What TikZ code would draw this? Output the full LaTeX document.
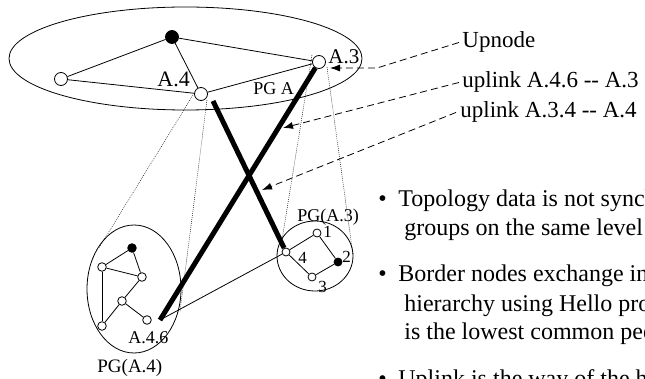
\documentclass[tikz,border=0pt]{standalone}
\usepackage{fontspec}
\setmainfont{Liberation Serif}
\usetikzlibrary{arrows.meta}

\tikzset{
  pnode/.style={circle,draw,fill=white,inner sep=0pt},
  lbl/.style={inner sep=0pt,anchor=base west},
  uplink/.style={line width=5pt},
  proj/.style={line width=0.5pt,dash pattern=on 0.8pt off 1.2pt},
  pointer/.style={dash pattern=on 7pt off 4pt,-{Latex[length=10pt,width=7pt]}}
}

\begin{document}
\begin{tikzpicture}[x=1pt,y=-1pt,line width=0.8pt]
\useasboundingbox (0,0) rectangle (645,379);
\clip (0,0) rectangle (645,379);

        % peer groups
        \draw (185.5,58.5) ellipse [x radius=176.5, y radius=51.5];
        \draw (134,289) ellipse [x radius=47, y radius=64];
        \draw (315,256) ellipse [x radius=38, y radius=35];

        % PG A
        \begin{scope}[every node/.style={pnode, minimum size=13pt}]
          \node (ab) at (172,37) [fill=black] {};
          \node (al) at (61,79)  {};
          \node (a4) at (201,94) {};
          \node (a3) at (319,62) {};
        \end{scope}

        % PG(A.4)
        \begin{scope}[every node/.style={pnode, minimum size=8.6pt}]
          \node (b0) at (132,248) [fill=black] {};
          \node (b1) at (102,267) {};
          \node (b2) at (142,277) {};
          \node (b3) at (122,301) {};
          \node (b4) at (102,326) {};
          \node (b6) at (147,320) {};
        \end{scope}

        % PG(A.3)
        \begin{scope}[every node/.style={pnode, minimum size=8pt}]
          \node (c1) at (317,233) {};
          \node (c2) at (338,262) [fill=black] {};
          \node (c3) at (312,277) {};
          \node (c4) at (286,252) {};
        \end{scope}

        \begin{scope}[every edge/.style={draw}]
          \path (al) edge (ab);
          \path (ab) edge (a3);
          \path (al) edge (a4);
          \path (ab) edge (a4);
          \path (a4) edge (a3);
          \path (b0) edge (b1);
          \path (b0) edge (b2);
          \path (b1) edge (b2);
          \path (b1) edge (b4);
          \path (b2) edge (b3);
          \path (b3) edge (b4);
          \path (b3) edge (b6);
          \path (c4) edge (c1);
          \path (c1) edge (c2);
          \path (c2) edge (c3);
          \path (c3) edge (c4);
        \end{scope}

        % uplinks
        \coordinate (e46) at (160,320);
        \coordinate (e4)  at (213,101);
        \draw (e46) -- (c4);
        \draw[uplink] (e46) -- (a3);
        \draw[uplink] (e4) -- (c4);

        % projections
        \draw[proj] (193,95)  -- (99,248);
        \draw[proj] (207,100) -- (180,312);
        \draw[proj] (312,55)  -- (282,240);
        \draw[proj] (327,67)  -- (353,255);

        % labels
        \node[lbl, font=\fontsize{22}{22}\selectfont] (la4) at (157,87) {A.4};
        \node[lbl, font=\fontsize{21}{21}\selectfont] (la3) at (328,64) {A.3};
        \node[lbl, font=\fontsize{18}{18}\selectfont] (lpga) at (253,95) {PG A};
        \node[lbl, font=\fontsize{18}{18}\selectfont] (lpg3) at (297,222) {PG(A.3)};
        \node[lbl, font=\fontsize{17}{17}\selectfont] (l1) at (323,238) {1};
        \node[lbl, font=\fontsize{17}{17}\selectfont] (l2) at (342,263) {2};
        \node[lbl, font=\fontsize{17}{17}\selectfont] (l3) at (318,292) {3};
        \node[lbl, font=\fontsize{17}{17}\selectfont] (l4) at (298,264) {4};
        \node[lbl, font=\fontsize{18}{18}\selectfont] (la46) at (128,343) {A.4.6};
        \node[lbl, font=\fontsize{19}{19}\selectfont] (lpg4) at (97,372) {PG(A.4)};

        \begin{scope}[every node/.style={lbl, font=\fontsize{23}{23}\selectfont}]
          \node (lup)  at (462,48)  {Upnode};
          \node (lul1) at (462,88)  {uplink A.4.6 -{}- A.3};
          \node (lul2) at (460,118) {uplink A.3.4 -{}- A.4};
        \end{scope}

        \coordinate (tu) at (330,68);
        \coordinate (t1) at (283,128);
        \coordinate (t2) at (262,190);
        \draw[pointer] ([xshift=-3pt]lup.west) -- (377,68) -- (tu);
        \draw[pointer] ([xshift=-3pt]lul1.west) -- (t1);
        \draw[pointer] ([xshift=-4pt]lul2.west) -- (t2);

        % notes
        \begin{scope}[every node/.style={lbl, font=\fontsize{24}{24}\selectfont}]
          \node (b1m) at (378,207) {\textbullet};
          \node (t11) at (398,207) {Topology data is not synchronized between peer};
          \node (t12) at (404,236) {groups on the same level};
          \node (b2m) at (378,282) {\textbullet};
          \node (t21) at (398,282) {Border nodes exchange information};
          \node (t22) at (404,311) {hierarchy using Hello protocol};
          \node (t23) at (404,339) {is the lowest common peer group};
          \node (b3m) at (378,386) {\textbullet};
          \node (t31) at (398,386) {Uplink is the way of the hierarchy};
        \end{scope}

      \end{tikzpicture}
\end{document}
